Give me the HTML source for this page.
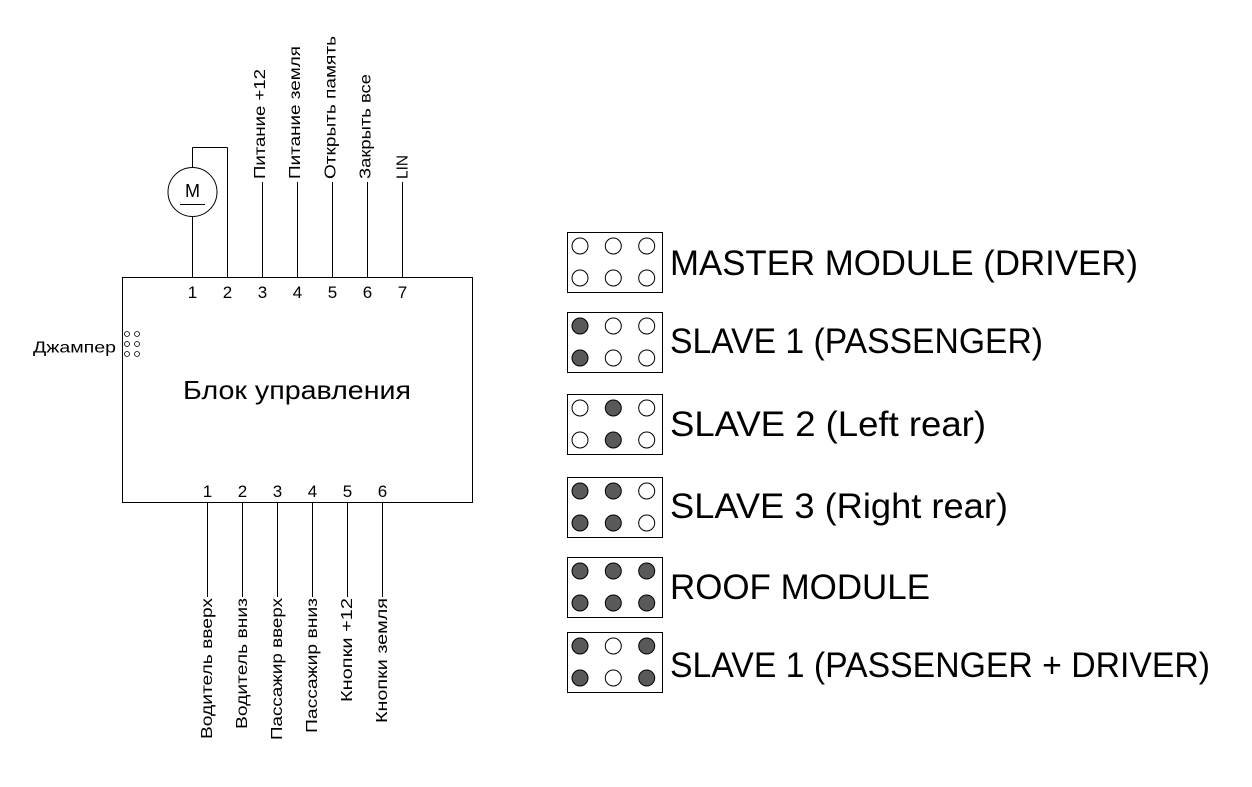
<!DOCTYPE html>
<html>
<head>
<meta charset="utf-8">
<style>
  html, body { margin: 0; padding: 0; background: #ffffff; }
  svg { display: block; }
  text { font-family: "Liberation Sans", "DejaVu Sans", sans-serif; fill: #000; }
</style>
</head>
<body>
<svg width="1252" height="787" viewBox="0 0 1252 787" xmlns="http://www.w3.org/2000/svg">
  <rect x="0" y="0" width="1252" height="787" fill="#ffffff"/>

  <!-- Control block -->
  <g stroke="#000" stroke-width="1" fill="none" shape-rendering="crispEdges">
    <rect x="122.5" y="277.5" width="350" height="225"/>
    <!-- top pin wires -->
    <line x1="192.5" y1="217" x2="192.5" y2="277"/>
    <line x1="192.5" y1="147.5" x2="192.5" y2="167"/>
    <line x1="192.5" y1="147.5" x2="227.5" y2="147.5"/>
    <line x1="227.5" y1="147.5" x2="227.5" y2="277"/>
    <line x1="262.5" y1="182" x2="262.5" y2="277"/>
    <line x1="297.5" y1="182" x2="297.5" y2="277"/>
    <line x1="332.5" y1="182" x2="332.5" y2="277"/>
    <line x1="367.5" y1="182" x2="367.5" y2="277"/>
    <line x1="402.5" y1="182" x2="402.5" y2="277"/>
    <!-- bottom pin wires -->
    <line x1="207.5" y1="502" x2="207.5" y2="597"/>
    <line x1="242.5" y1="502" x2="242.5" y2="597"/>
    <line x1="277.5" y1="502" x2="277.5" y2="597"/>
    <line x1="312.5" y1="502" x2="312.5" y2="597"/>
    <line x1="347.5" y1="502" x2="347.5" y2="597"/>
    <line x1="382.5" y1="502" x2="382.5" y2="597"/>
    <!-- motor underline -->
    <line x1="180" y1="204.5" x2="205" y2="204.5"/>
  </g>

  <!-- Motor -->
  <circle cx="192.5" cy="192" r="24.5" fill="none" stroke="#000" stroke-width="1"/>
  <text x="192.5" y="197" font-size="18" text-anchor="middle">M</text>

  <!-- Top pin numbers -->
  <g font-size="17" text-anchor="middle">
    <text x="192.5" y="298">1</text>
    <text x="227.5" y="298">2</text>
    <text x="262.5" y="298">3</text>
    <text x="297.5" y="298">4</text>
    <text x="332.5" y="298">5</text>
    <text x="367.5" y="298">6</text>
    <text x="402.5" y="298">7</text>
  </g>
  <!-- Bottom pin numbers -->
  <g font-size="17" text-anchor="middle">
    <text x="207.5" y="497">1</text>
    <text x="242.5" y="497">2</text>
    <text x="277.5" y="497">3</text>
    <text x="312.5" y="497">4</text>
    <text x="347.5" y="497">5</text>
    <text x="382.5" y="497">6</text>
  </g>

  <!-- Top labels (rotated) -->
  <g font-size="16">
    <text transform="translate(265,179) rotate(-90)" textLength="110" lengthAdjust="spacingAndGlyphs">Питание +12</text>
    <text transform="translate(300,179) rotate(-90)" textLength="133" lengthAdjust="spacingAndGlyphs">Питание земля</text>
    <text transform="translate(335.5,179) rotate(-90)" textLength="143" lengthAdjust="spacingAndGlyphs">Открыть память</text>
    <text transform="translate(370.5,179) rotate(-90)" textLength="105" lengthAdjust="spacingAndGlyphs">Закрыть все</text>
    <text transform="translate(407.5,179) rotate(-90)" textLength="24" lengthAdjust="spacingAndGlyphs">LIN</text>
  </g>

  <!-- Bottom labels (rotated) -->
  <g font-size="16">
    <text transform="translate(212,739) rotate(-90)" textLength="141" lengthAdjust="spacingAndGlyphs">Водитель вверх</text>
    <text transform="translate(247,729) rotate(-90)" textLength="131" lengthAdjust="spacingAndGlyphs">Водитель вниз</text>
    <text transform="translate(282,740) rotate(-90)" textLength="142" lengthAdjust="spacingAndGlyphs">Пассажир вверх</text>
    <text transform="translate(317,733) rotate(-90)" textLength="135" lengthAdjust="spacingAndGlyphs">Пассажир вниз</text>
    <text transform="translate(352,702) rotate(-90)" textLength="104" lengthAdjust="spacingAndGlyphs">Кнопки +12</text>
    <text transform="translate(387,723) rotate(-90)" textLength="125" lengthAdjust="spacingAndGlyphs">Кнопки земля</text>
  </g>

  <!-- Jumper -->
  <text x="33" y="352.5" font-size="16" textLength="83" lengthAdjust="spacingAndGlyphs">Джампер</text>
  <g fill="none" stroke="#000" stroke-width="0.8">
    <circle cx="127" cy="334" r="2.5"/>
    <circle cx="137" cy="334" r="2.5"/>
    <circle cx="127" cy="344" r="2.5"/>
    <circle cx="137" cy="344" r="2.5"/>
    <circle cx="127" cy="354" r="2.5"/>
    <circle cx="137" cy="354" r="2.5"/>
  </g>

  <!-- Block title -->
  <text x="183" y="399" font-size="26" textLength="228" lengthAdjust="spacingAndGlyphs">Блок управления</text>

  <!-- Right side: jumper configurations -->
  <g stroke="#000" stroke-width="1" fill="none" shape-rendering="crispEdges">
    <rect x="567.5" y="232.5" width="95" height="60"/>
    <rect x="567.5" y="312.5" width="95" height="60"/>
    <rect x="567.5" y="394.5" width="95" height="60"/>
    <rect x="567.5" y="477.5" width="95" height="60"/>
    <rect x="567.5" y="557.5" width="95" height="60"/>
    <rect x="567.5" y="632.5" width="95" height="60"/>
  </g>

  <g stroke="#000" stroke-width="1">
    <!-- Box 1: all empty -->
    <circle cx="580" cy="246" r="8" fill="#fff"/>
    <circle cx="613.3" cy="246" r="8" fill="#fff"/>
    <circle cx="646.7" cy="246" r="8" fill="#fff"/>
    <circle cx="580" cy="278" r="8" fill="#fff"/>
    <circle cx="613.3" cy="278" r="8" fill="#fff"/>
    <circle cx="646.7" cy="278" r="8" fill="#fff"/>
    <!-- Box 2: 100/100 -->
    <circle cx="580" cy="326" r="8" fill="#595959"/>
    <circle cx="613.3" cy="326" r="8" fill="#fff"/>
    <circle cx="646.7" cy="326" r="8" fill="#fff"/>
    <circle cx="580" cy="358" r="8" fill="#595959"/>
    <circle cx="613.3" cy="358" r="8" fill="#fff"/>
    <circle cx="646.7" cy="358" r="8" fill="#fff"/>
    <!-- Box 3: 010/010 -->
    <circle cx="580" cy="408" r="8" fill="#fff"/>
    <circle cx="613.3" cy="408" r="8" fill="#595959"/>
    <circle cx="646.7" cy="408" r="8" fill="#fff"/>
    <circle cx="580" cy="440" r="8" fill="#fff"/>
    <circle cx="613.3" cy="440" r="8" fill="#595959"/>
    <circle cx="646.7" cy="440" r="8" fill="#fff"/>
    <!-- Box 4: 110/110 -->
    <circle cx="580" cy="491" r="8" fill="#595959"/>
    <circle cx="613.3" cy="491" r="8" fill="#595959"/>
    <circle cx="646.7" cy="491" r="8" fill="#fff"/>
    <circle cx="580" cy="523" r="8" fill="#595959"/>
    <circle cx="613.3" cy="523" r="8" fill="#595959"/>
    <circle cx="646.7" cy="523" r="8" fill="#fff"/>
    <!-- Box 5: 111/111 -->
    <circle cx="580" cy="571" r="8" fill="#595959"/>
    <circle cx="613.3" cy="571" r="8" fill="#595959"/>
    <circle cx="646.7" cy="571" r="8" fill="#595959"/>
    <circle cx="580" cy="603" r="8" fill="#595959"/>
    <circle cx="613.3" cy="603" r="8" fill="#595959"/>
    <circle cx="646.7" cy="603" r="8" fill="#595959"/>
    <!-- Box 6: 101/101 -->
    <circle cx="580" cy="646" r="8" fill="#595959"/>
    <circle cx="613.3" cy="646" r="8" fill="#fff"/>
    <circle cx="646.7" cy="646" r="8" fill="#595959"/>
    <circle cx="580" cy="678" r="8" fill="#595959"/>
    <circle cx="613.3" cy="678" r="8" fill="#fff"/>
    <circle cx="646.7" cy="678" r="8" fill="#595959"/>
  </g>

  <g font-size="35">
    <text x="670" y="275" textLength="468" lengthAdjust="spacingAndGlyphs">MASTER MODULE (DRIVER)</text>
    <text x="670" y="353" textLength="373" lengthAdjust="spacingAndGlyphs">SLAVE 1 (PASSENGER)</text>
    <text x="670" y="436" textLength="316" lengthAdjust="spacingAndGlyphs">SLAVE 2 (Left rear)</text>
    <text x="670" y="518" textLength="338" lengthAdjust="spacingAndGlyphs">SLAVE 3 (Right rear)</text>
    <text x="670" y="599" textLength="260" lengthAdjust="spacingAndGlyphs">ROOF MODULE</text>
    <text x="670" y="677" textLength="540" lengthAdjust="spacingAndGlyphs">SLAVE 1 (PASSENGER + DRIVER)</text>
  </g>
</svg>
</body>
</html>
